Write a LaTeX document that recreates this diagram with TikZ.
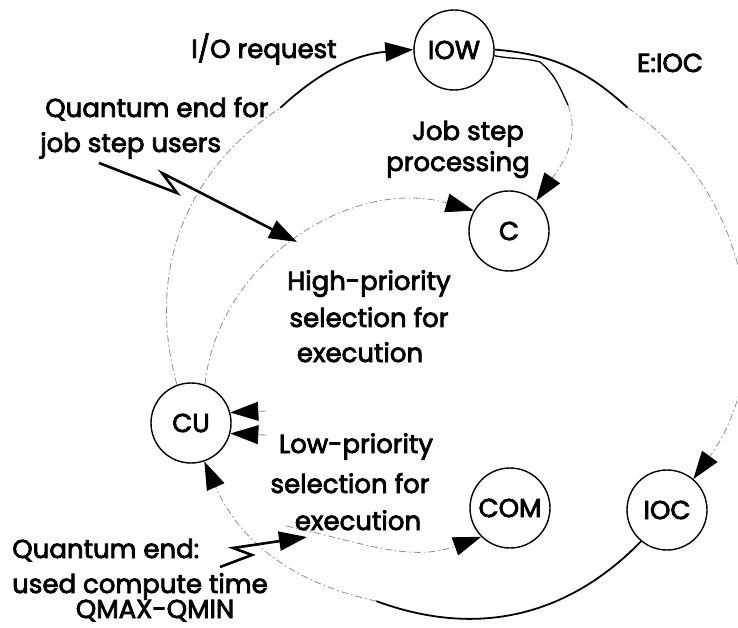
\documentclass[tikz,border=0pt]{standalone}
\usepackage{fontspec}
\setmainfont{Poppins}[FakeBold=3]
\usetikzlibrary{arrows.meta}
\tikzset{
  nodecirc/.style={circle,draw=black,line width=1.4pt,minimum size=80pt,inner sep=0pt,font=\fontsize{26}{30}\selectfont},
  lbl/.style={inner sep=0pt,font=\fontsize{26}{30}\selectfont},
  faint/.style={draw=black!45,line width=0.8pt,dash pattern=on 7pt off 3pt on 1.5pt off 3pt},
  solidarc/.style={draw=black,line width=1.8pt},
  bolt/.style={draw=black,line width=2.6pt,line join=miter,miter limit=20},
  arr/.style={arrows={-Triangle[length=28pt,width=19pt,color=black,fill=black]}}
}
\begin{document}
\begin{tikzpicture}[x=1pt,y=1pt]
\useasboundingbox (0,0) rectangle (738,627);
% state nodes
\node[nodecirc] (iow) at (454,577) {IOW};
\node[nodecirc] (c)   at (509,396) {C};
\node[nodecirc] (cu)  at (191,204) {CU};
\node[nodecirc] (com) at (510,119) {COM};
\node[nodecirc] (ioc) at (667,117) {IOC};
% helper coordinates
\coordinate (p1) at (280.4,519.2);
\coordinate (p2) at (627.6,519.2);
\coordinate (p3) at (376.3,25.9);
\coordinate (j0) at (540,565);
\coordinate (j1) at (568,522);
\coordinate (lp0) at (286,101);
\coordinate (s1) at (266,216);
\coordinate (s2) at (266,192);
\coordinate (b1) at (99,464);
\coordinate (b2) at (177,434);
\coordinate (b3) at (162,454);
\coordinate (b4) at (297,385);
\coordinate (q1) at (220,60);
\coordinate (q2) at (252,72);
\coordinate (q3) at (233,79);
\coordinate (q4) at (307,90);
% outer loop: CU -> IOW (I/O request)
\draw[faint] (cu) to[bend left=36] (p1);
\draw[solidarc,arr] (p1) to[bend left=19] (iow);
% IOW -> IOC (E:IOC)
\draw[solidarc] (iow) to[bend left=19] (p2);
\draw[faint,arr] (p2) to[bend left=46] (ioc);
% IOC -> CU (bottom)
\draw[solidarc] (ioc) to[bend left=33] (p3);
\draw[faint,arr] (p3) to[bend left=27] (cu);
% IOW -> C (job step processing)
\draw[draw=black,line width=1.3pt] (iow.-8) to[out=-12,in=165] (j0) to[out=-40,in=115] (j1);
\draw[faint,arr] (j1) to[out=-70,in=55] (c.48);
% high-priority selection -> C
\draw[faint,arr] (cu.70) to[out=84,in=164] (c.150);
% low-priority selection -> COM
\draw[faint,arr] (lp0) to[out=-12,in=200] (com.225);
% arrows into CU from the right
\draw[faint,arr] (s1) -- (cu.15);
\draw[faint,arr] (s2) -- (cu.-15);
% quantum end bolts
\draw[bolt,arr] (b1) -- (b2) -- (b3) -- (b4);
\draw[bolt,arr] (q1) -- (q2) -- (q3) -- (q4);
% labels
\node[lbl,anchor=base] (t1) at (264,569) {I/O request};
\node[lbl,anchor=base] (t2) at (670,555) {E:IOC};
\node[lbl,anchor=base west] (t3) at (45,510) {Quantum end for};
\node[lbl,anchor=base west] (t4) at (40,475) {job step users};
\node[lbl,anchor=base] (t5) at (468,487) {Job step};
\node[lbl,anchor=base] (t6) at (458,456) {processing};
\node[lbl,anchor=base] (t7) at (369,337) {High-priority};
\node[lbl,anchor=base] (t8) at (369,300) {selection for};
\node[lbl,anchor=base] (t9) at (360,265) {execution};
\node[lbl,anchor=base] (t10) at (356,174) {Low-priority};
\node[lbl,anchor=base] (t11) at (350,134) {selection for};
\node[lbl,anchor=base] (t12) at (358,97) {execution};
\node[lbl,anchor=base west] (t13) at (12,69) {Quantum end:};
\node[lbl,anchor=base west] (t14) at (12,34) {used compute time};
\node[lbl,anchor=base] (t15) at (155,9) {QMAX-QMIN};
\end{tikzpicture}
\end{document}
